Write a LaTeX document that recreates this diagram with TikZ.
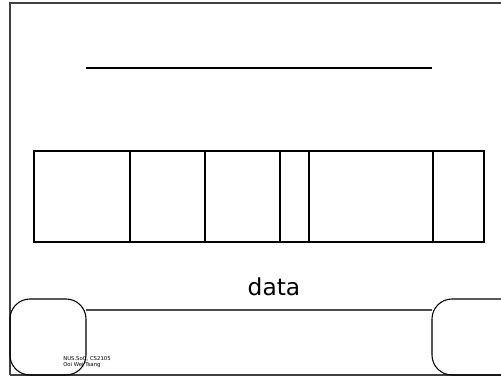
\documentclass[tikz,border=0pt]{standalone}
\usepackage{fontspec}
\setmainfont{DejaVu Sans}
\begin{document}
\begin{tikzpicture}[x=0.75pt,y=-0.75pt,
  frame/.style={draw=black!75, line width=1pt},
  cell/.style={draw=black, line width=0.9pt},
  corner/.style={draw=black, line width=0.8pt, rounded corners=15pt}]
\useasboundingbox (0,0) rectangle (501,377);
% outer frame
\draw[frame] (10,375) -- (10,3) -- (501,3);
\draw[frame, line width=1.4pt] (10,375) -- (501,375);
\draw[black!70, line width=0.8pt] (86,310) -- (432,310);
% title line
\draw[line width=1pt] (86,68) -- (432,68);
% cells
\draw[cell] (34,151) rectangle (130,242);
\draw[cell] (130,151) rectangle (205,242);
\draw[cell] (205,151) rectangle (280,242);
\draw[cell] (280,151) rectangle (309,242);
\draw[cell] (309,151) rectangle (433,242);
\draw[cell] (433,151) rectangle (484,242);
% label
\node[font=\fontsize{17.5pt}{20pt}\selectfont] (data) at (274,287) {data};
% rounded corners
\draw[corner] (10,299) rectangle (86,375);
\draw[corner] (432,299) rectangle (522,375);
\node[anchor=north west, inner sep=0pt, align=left,
  font=\fontsize{4pt}{4.8pt}\selectfont] (cred) at (63,356)
  {NUS.SoC, CS2105\\Ooi Wei Tsang};
\end{tikzpicture}
\end{document}
